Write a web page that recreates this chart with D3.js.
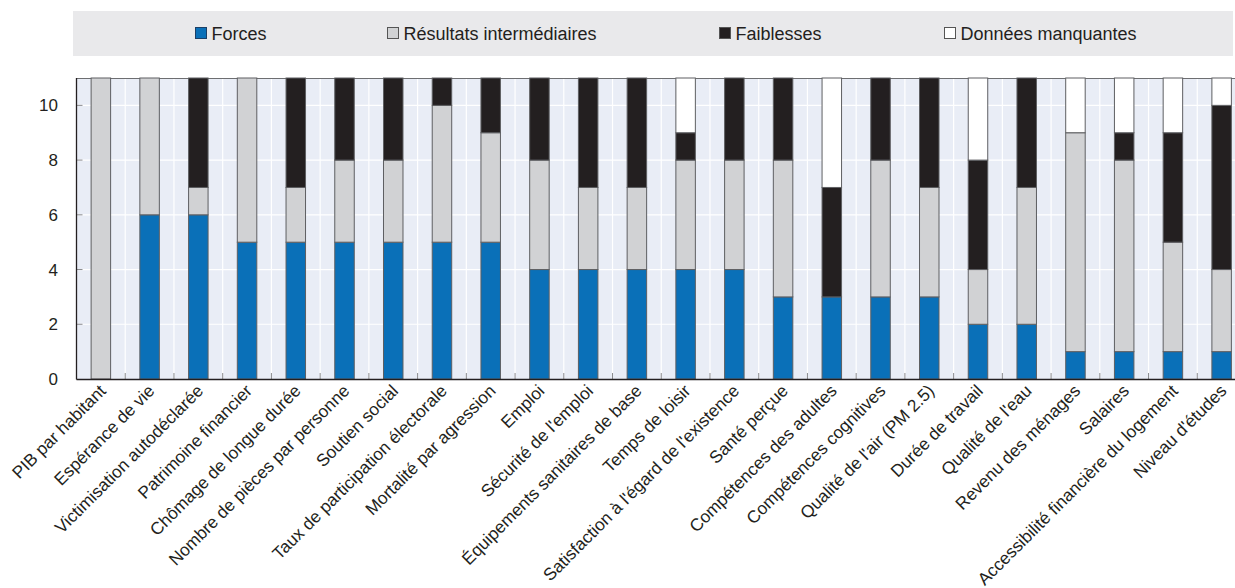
<!DOCTYPE html>
<html><head><meta charset="utf-8">
<script src="https://cdn.jsdelivr.net/npm/d3@7"></script>
<style>
html,body{margin:0;padding:0;background:#fff;}
svg{display:block;font-family:"Liberation Sans",Arial,sans-serif;}
</style></head>
<body>
<svg id="chart" width="1235" height="588"></svg>
<script>
const categories = ["PIB par habitant","Espérance de vie","Victimisation autodéclarée","Patrimoine financier","Chômage de longue durée","Nombre de pièces par personne","Soutien social","Taux de participation électorale","Mortalité par agression","Emploi","Sécurité de l'emploi","Équipements sanitaires de base","Temps de loisir","Satisfaction à l'égard de l'existence","Santé perçue","Compétences des adultes","Compétences cognitives","Qualité de l'air (PM 2.5)","Durée de travail","Qualité de l'eau","Revenu des ménages","Salaires","Accessibilité financière du logement","Niveau d'études"];
const forces        = [0,6,6,5,5,5,5,5,5,4,4,4,4,4,3,3,3,3,2,2,1,1,1,1];
const intermediaires= [11,5,1,6,2,3,3,5,4,4,3,3,4,4,5,0,5,4,2,5,8,7,4,3];
const faiblesses    = [0,0,4,0,4,3,3,1,2,3,4,4,1,3,3,4,3,4,4,4,0,1,4,6];
const manquantes    = [0,0,0,0,0,0,0,0,0,0,0,0,2,0,0,4,0,0,3,0,2,2,2,1];
const seriesNames = ["Forces","Résultats intermédiaires","Faiblesses","Données manquantes"];
const seriesColors = ["#0a70b8","#d1d2d4","#231f20","#ffffff"];
const yTicks = [0,2,4,6,8,10];

(function(){
const svg = d3.select("#chart");
const pL = 76.5, pR = 1246, pT = 78, pB = 379;

const rows = categories.map((c,i)=>({cat:c, s0:forces[i], s1:intermediaires[i], s2:faiblesses[i], s3:manquantes[i]}));
const stack = d3.stack().keys(["s0","s1","s2","s3"])(rows);

const x = d3.scaleBand().domain(categories).range([pL,pR]).paddingInner(0.6).paddingOuter(0.3);
const y = d3.scaleLinear().domain([0,11]).range([pB,pT]);

// legend box
svg.append("rect").attr("x",73).attr("y",11).attr("width",1160).attr("height",45).attr("fill","#e9e9eb");
const legX = [195,387,719,944];
seriesNames.forEach((n,i)=>{
  const g = svg.append("g").attr("transform",`translate(${legX[i]},27)`);
  g.append("rect").attr("x",0.5).attr("y",0.5).attr("width",11).attr("height",11)
    .attr("fill",seriesColors[i]).attr("stroke", i===0?"#1c3f66":"#555").attr("stroke-width",1);
  g.append("text").attr("x",16.5).attr("y",12.5).attr("font-size",18).attr("fill","#231f20").text(n);
});

// plot background
svg.append("rect").attr("x",pL).attr("y",pT).attr("width",pR-pL).attr("height",pB-pT).attr("fill","#e9edf6");
// horizontal grid
svg.append("g").selectAll("line").data(yTicks.filter(d=>d>0)).join("line")
  .attr("x1",pL).attr("x2",pR).attr("y1",d=>y(d)).attr("y2",d=>y(d))
  .attr("stroke","#ffffff").attr("stroke-width",1.2);
// vertical grid at band boundaries
const boundaries = categories.slice(1).map((c,i)=> (x(categories[i])+x.bandwidth() + x(c))/2);
svg.append("g").selectAll("line").data(boundaries).join("line")
  .attr("x1",d=>d).attr("x2",d=>d).attr("y1",pT).attr("y2",pB)
  .attr("stroke","#ffffff").attr("stroke-width",1.2);

// top border
svg.append("line").attr("x1",pL).attr("x2",pR).attr("y1",pT+0.5).attr("y2",pT+0.5).attr("stroke","#6d6e71").attr("stroke-width",1);

// bars
svg.append("g").selectAll("g").data(stack).join("g")
  .attr("fill",(d,i)=>seriesColors[i])
  .selectAll("rect").data(d=>d.filter(p=>p[1]-p[0]>0)).join("rect")
  .attr("x",d=>x(d.data.cat)).attr("width",x.bandwidth())
  .attr("y",d=>y(d[1])).attr("height",d=>y(d[0])-y(d[1]))
  .attr("stroke","#5e5f62").attr("stroke-width",1);

// x ticks at boundaries (inside, upward)
svg.append("g").selectAll("line").data(boundaries).join("line")
  .attr("x1",d=>d).attr("x2",d=>d).attr("y1",pB).attr("y2",pB-6)
  .attr("stroke","#8a8b8e").attr("stroke-width",1);
// y ticks inside
svg.append("g").selectAll("line").data(yTicks.filter(d=>d>0)).join("line")
  .attr("x1",pL).attr("x2",pL+6).attr("y1",d=>y(d)).attr("y2",d=>y(d))
  .attr("stroke","#8a8b8e").attr("stroke-width",1);

// axes lines
svg.append("line").attr("x1",pL).attr("x2",pL).attr("y1",pT).attr("y2",pB+0.5).attr("stroke","#231f20").attr("stroke-width",1.3);
svg.append("line").attr("x1",pL).attr("x2",pR).attr("y1",pB+0.5).attr("y2",pB+0.5).attr("stroke","#231f20").attr("stroke-width",1.3);

// y labels
svg.append("g").selectAll("text").data(yTicks).join("text")
  .attr("x",58).attr("y",d=>y(d)+6).attr("text-anchor","end").attr("font-size",17).attr("fill","#231f20").text(d=>d);

// x labels
svg.append("g").selectAll("text").data(categories).join("text")
  .attr("transform",d=>`translate(${x(d)+x.bandwidth()/2+6},${pB+13}) rotate(-45)`)
  .attr("text-anchor","end").attr("font-size",17.3).attr("fill","#231f20").text(d=>d);
})();
</script>
</body></html>
